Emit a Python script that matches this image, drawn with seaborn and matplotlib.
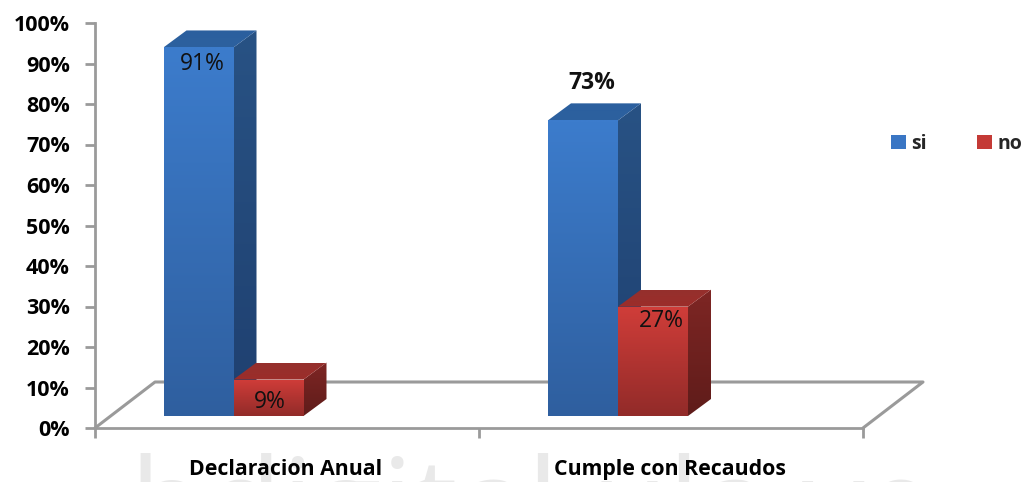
import numpy as np
import pandas as pd
import matplotlib
matplotlib.use('Agg')
import matplotlib.pyplot as plt
from matplotlib.colors import to_rgb
from matplotlib.patches import Polygon
import seaborn as sns

# datos del grafico
categorias = ['Declaracion Anual', 'Cumple con Recaudos']
si = [0.91, 0.73]
no = [0.09, 0.27]
etiquetas_si = ['91%', '73%']
etiquetas_no = ['9%', '27%']
ticks_y = [0, 0.1, 0.2, 0.3, 0.4, 0.5, 0.6, 0.7, 0.8, 0.9, 1.0]

df = pd.DataFrame({
    'categoria': categorias * 2,
    'respuesta': ['si'] * 2 + ['no'] * 2,
    'valor': si + no,
})

sns.set_theme(style='white')
plt.rcParams['font.family'] = ['Open Sans', 'DejaVu Sans']

W, H = 1025, 482
fig = plt.figure(figsize=(W / 100, H / 100), dpi=100)
ax = fig.add_axes([95 / W, 1 - 428 / H, 768 / W, 405 / H])

GRIS = '#9a9a9a'
PASO_X = 384.5   # pixeles entre categorias
PISO = 12 / 405  # el frente de las barras arranca sobre el piso
DX, DY = 23 / PASO_X, 17 / 405  # profundidad 3D

sns.barplot(data=df, x='categoria', y='valor', hue='respuesta', hue_order=['si', 'no'],
            palette=['#3a76c4', '#c43a36'], width=140 / PASO_X, gap=0,
            saturation=1, errorbar=None, ax=ax, linewidth=0, zorder=3)

# el frente de cada barra se levanta hasta el piso
for barras in ax.containers:
    for b in barras:
        b.set_y(PISO)

ax.set_xlim(-138.5 / PASO_X, -138.5 / PASO_X + 768 / PASO_X)
ax.set_ylim(0, 1)


def cara(vertices, arriba, abajo, z):
    # cara con degradado vertical, recortada al poligono
    vertices = np.array(vertices)
    pol = Polygon(vertices, closed=True, facecolor='none', edgecolor='none', zorder=z,
                  transform=ax.transData)
    ax.add_patch(pol)
    grad = np.linspace(to_rgb(arriba), to_rgb(abajo), 64)[:, None, :]
    im = ax.imshow(grad, aspect='auto', interpolation='bilinear', zorder=z, clip_on=True,
                   extent=[vertices[:, 0].min(), vertices[:, 0].max(),
                           vertices[:, 1].min(), vertices[:, 1].max()])
    im.set_clip_path(pol)


colores = [
    {'frente': ('#3c7ccc', '#2f5f9f'), 'lado': ('#285284', '#1f4070'), 'tapa': ('#2b5f9e', '#2d619f')},
    {'frente': ('#d03d39', '#922b29'), 'lado': ('#7e2624', '#5f1c1a'), 'tapa': ('#95302d', '#9c2d2a')},
]

for n, (barras, col) in enumerate(zip(ax.containers, colores)):
    for b in barras:
        x0, x1 = b.get_x(), b.get_x() + b.get_width()
        y0, y1 = b.get_y(), b.get_y() + b.get_height()
        z = 4 + 3 * n
        cara([(x1, y0), (x1 + DX, y0 + DY), (x1 + DX, y1 + DY), (x1, y1)], *col['lado'], z)
        cara([(x0, y1), (x0 + DX, y1 + DY), (x1 + DX, y1 + DY), (x1, y1)], *col['tapa'], z)
        cara([(x0, y0), (x1, y0), (x1, y1), (x0, y1)], *col['frente'], z + 1)

ax.set_xlim(-138.5 / PASO_X, -138.5 / PASO_X + 768 / PASO_X)
ax.set_ylim(0, 1)

# piso del grafico
piso_x = [0, 60 / 768, 828 / 768, 1]
piso_y = [0, 46 / 405, 46 / 405, 0]
ax.plot(piso_x, piso_y, transform=ax.transAxes, color=GRIS, lw=2.2, clip_on=False, zorder=1)

# ejes
sns.despine(ax=ax, top=True, right=True)
ax.spines['left'].set_color(GRIS)
ax.spines['bottom'].set_color(GRIS)
ax.spines['left'].set_linewidth(2)
ax.spines['bottom'].set_linewidth(2)

ax.set_yticks(ticks_y)
ax.set_yticklabels([f'{int(round(t * 100))}%' for t in ticks_y], fontweight='bold', fontsize=15.5, color='black')
ax.tick_params(axis='y', left=True, length=7, width=2, color=GRIS, pad=11)

xmin, xmax = ax.get_xlim()
ax.set_xticks([xmin, (xmin + xmax) / 2, xmax])
ax.set_xticklabels([])
ax.set_xticks([0.135, 1.135], minor=True)
ax.set_xticklabels(categorias, minor=True, fontweight='bold', fontsize=15.3, color='black')
ax.tick_params(axis='x', which='major', bottom=True, length=7, width=2, color=GRIS)
ax.tick_params(axis='x', which='minor', bottom=False, length=0, pad=22)
ax.set_xlabel('')
ax.set_ylabel('')

# etiquetas de datos
desplazamientos = {
    '91%': (3, -12, 'normal'),
    '73%': (6, 27, 'bold'),
    '9%': (1, -16, 'normal'),
    '27%': (6, -10, 'normal'),
}
for barras, textos in zip(ax.containers, [etiquetas_si, etiquetas_no]):
    for b, t in zip(barras, textos):
        dx, dy, peso = desplazamientos[t]
        ax.annotate(t, (b.get_x() + b.get_width() / 2, b.get_y() + b.get_height()),
                    xytext=(dx, dy), textcoords='offset points', ha='center', va='center',
                    fontsize=16.5, fontweight=peso, color='#111111', zorder=10)

# leyenda
sns.move_legend(ax, 'center left', bbox_to_anchor=(891 / W, 1 - 144 / H), bbox_transform=fig.transFigure,
                ncols=2, frameon=False, title=None, fontsize=14, columnspacing=2.6,
                handlelength=0.75, handleheight=0.75, handletextpad=0.3, borderpad=0, borderaxespad=0)
for txt in ax.get_legend().get_texts():
    txt.set_fontweight('bold')

# marca de agua de la fuente, cortada por el borde inferior
fig.text(532 / W, 1 - 548 / H, 'bdigital.ula.ve', color='#e9e9e9', fontsize=90, ha='center',
         va='baseline', zorder=-1)

fig.savefig('out.png', dpi=100)
